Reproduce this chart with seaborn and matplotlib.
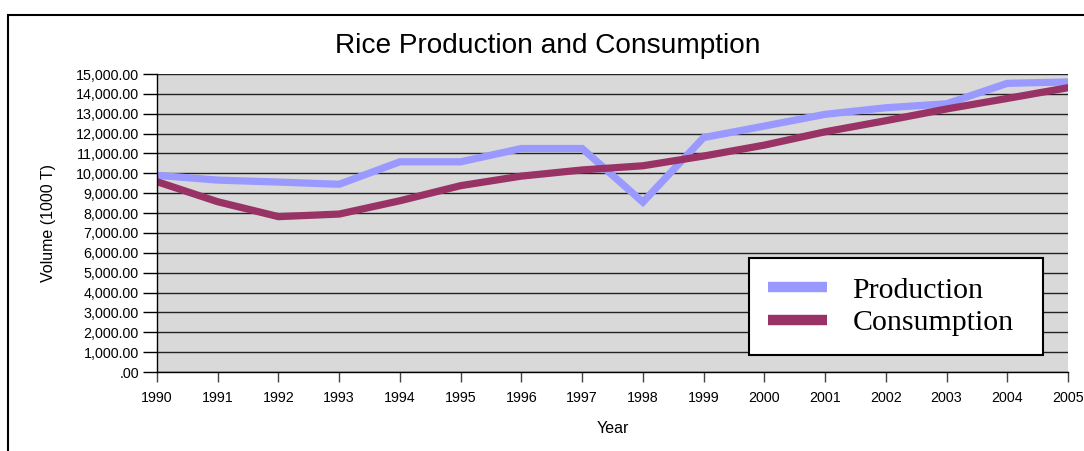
import matplotlib
matplotlib.use("Agg")
import matplotlib.pyplot as plt
import matplotlib.ticker as mticker
from matplotlib.lines import Line2D
import seaborn as sns
import pandas as pd

years = list(range(1990, 2006))
production = [9900, 9660, 9560, 9450, 10580, 10580, 11250, 11250, 8550,
              11800, 12380, 12970, 13300, 13500, 14530, 14600]
consumption = [9580, 8570, 7820, 7950, 8620, 9380, 9860, 10170, 10380,
               10870, 11420, 12090, 12650, 13240, 13770, 14310]
series_names = ["Production", "Consumption"]
colors = ["#9999ff", "#993366"]

df = pd.DataFrame({"Year": years * 2,
                   "Volume": production + consumption,
                   "Series": [series_names[0]] * len(years) + [series_names[1]] * len(years)})

sns.set_style("white")
plt.rcParams["font.family"] = ["Liberation Sans", "DejaVu Sans"]
plt.rcParams.update({"text.color": "black", "axes.labelcolor": "black",
                     "xtick.color": "black", "ytick.color": "black"})

fig = plt.figure(figsize=(10.84, 4.51), dpi=100)
ax = fig.add_axes([157 / 1084, 1 - 372 / 451, (1068 - 157) / 1084, (372 - 74) / 451])
ax.set_facecolor("#d9d9d9")

sns.lineplot(data=df, x="Year", y="Volume", hue="Series", palette=colors,
             linewidth=5.2, ax=ax, legend=False, solid_joinstyle="miter")

ax.set_xlim(1990, 2005)
ax.set_ylim(0, 15000)
ax.set_xticks(years)
ax.set_yticks(range(0, 15001, 1000))
ax.yaxis.set_major_formatter(mticker.FuncFormatter(
    lambda v, p: ".00" if v == 0 else f"{v:,.2f}"))
ax.grid(axis="y", color="#222222", linewidth=1.0)
ax.set_axisbelow(True)
for s in ["top", "right"]:
    ax.spines[s].set_visible(False)
for s in ["left", "bottom"]:
    ax.spines[s].set_color("black")
    ax.spines[s].set_linewidth(1.0)
ax.tick_params(axis="y", direction="out", length=10, width=1, labelsize=10.3, pad=3,
               color="black", labelcolor="black", left=True)
ax.tick_params(axis="x", direction="out", length=7, width=1, labelsize=10.3, pad=7,
               color="#444444", labelcolor="black", bottom=True)

ax.set_xlabel("Year", fontsize=11.5, labelpad=11, color="black")
ax.set_ylabel("Volume (1000 T)", fontsize=11.5, labelpad=14, color="black")
fig.text(548 / 1084, 1 - 46 / 451, "Rice Production and Consumption",
         ha="center", va="center", fontsize=20.2, color="black")

# legend
handles = [Line2D([0], [0], color=c, linewidth=7.5, solid_capstyle="butt") for c in colors]
leg = ax.legend(handles, series_names, loc="lower left",
                bbox_to_anchor=((749 - 157) / 911, (372 - 355) / 298, (1043 - 749) / 911, (355 - 258) / 298),
                mode="expand", frameon=True, fancybox=False, framealpha=1,
                edgecolor="black", prop={"family": "Liberation Serif", "size": 21.5},
                handlelength=2.0, handletextpad=0.85, borderaxespad=0, labelspacing=0.2,
                borderpad=0.62)
leg.get_frame().set_linewidth(1.5)
for t in leg.get_texts():
    t.set_color("black")

# outer frame (top and left visible)
fig.add_artist(plt.Rectangle((8 / 1084, -0.1), 1.2, 1 - 15 / 451 + 0.1, transform=fig.transFigure,
                             fill=False, edgecolor="black", linewidth=1.5))

fig.savefig("out.png", dpi=100)
